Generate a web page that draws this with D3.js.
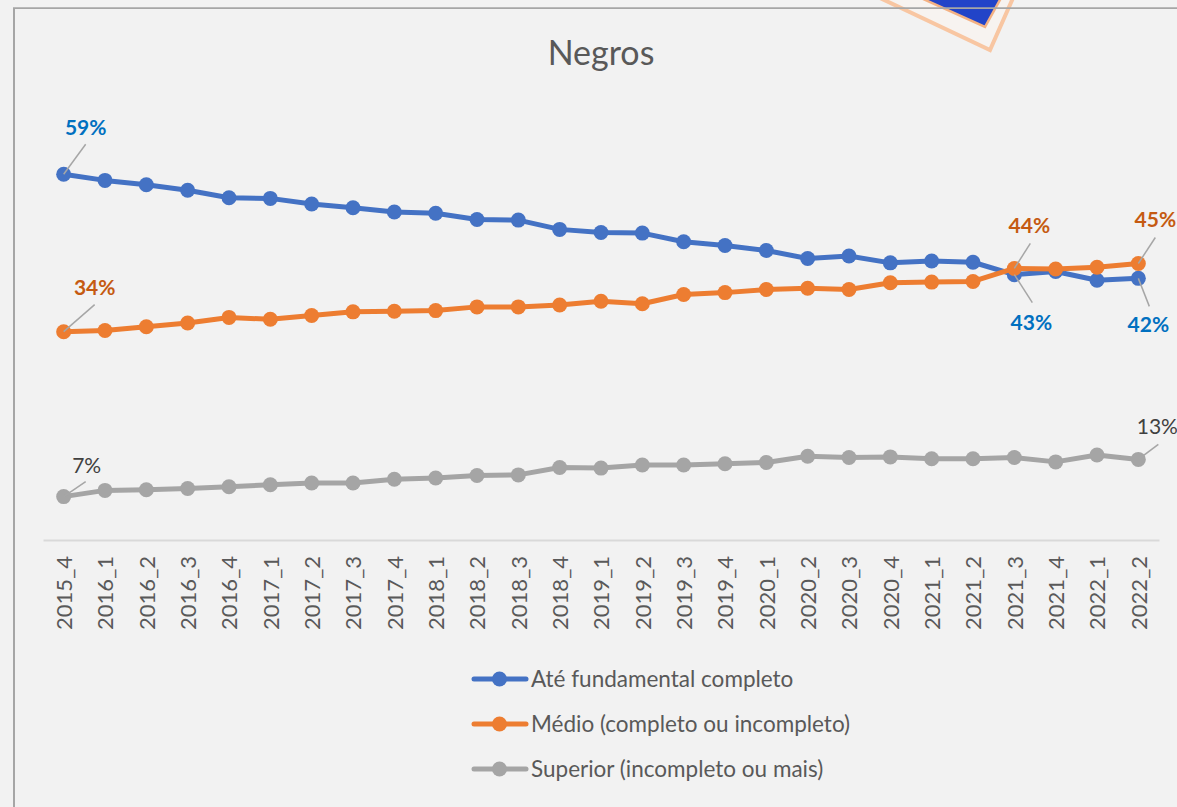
<!DOCTYPE html>
<html>
<head>
<meta charset="utf-8">
<script src="https://cdn.jsdelivr.net/npm/d3@7"></script>
<style>
  html, body { margin: 0; padding: 0; background: #f2f2f2; }
  svg { display: block; font-family: Lato, "Open Sans", sans-serif; }
</style>
</head>
<body>
<svg id="chart" width="1177" height="807"></svg>
<script>
// ---- data ----
const categories = ["2015_4","2016_1","2016_2","2016_3","2016_4","2017_1","2017_2","2017_3","2017_4",
  "2018_1","2018_2","2018_3","2018_4","2019_1","2019_2","2019_3","2019_4","2020_1","2020_2","2020_3",
  "2020_4","2021_1","2021_2","2021_3","2021_4","2022_1","2022_2"];

const fundamental = [0.590,0.580,0.573,0.564,0.552,0.551,0.542,0.536,0.529,0.527,0.517,0.516,0.501,
  0.496,0.495,0.481,0.475,0.467,0.454,0.458,0.447,0.450,0.448,0.428,0.433,0.419,0.422];
const medio = [0.336,0.338,0.344,0.350,0.359,0.356,0.362,0.368,0.369,0.370,0.376,0.376,0.379,
  0.385,0.381,0.396,0.399,0.404,0.406,0.404,0.415,0.416,0.417,0.438,0.437,0.440,0.446];
const superior = [0.070,0.080,0.081,0.083,0.086,0.089,0.092,0.092,0.098,0.100,0.104,0.105,0.117,
  0.116,0.121,0.121,0.123,0.125,0.135,0.133,0.134,0.131,0.131,0.133,0.126,0.137,0.130];

const seriesNames = ["Até fundamental completo", "Médio (completo ou incompleto)", "Superior (incompleto ou mais)"];
const title = "Negros";

// ---- styles ----
const seriesColors = ["#4472c4", "#ed7d31", "#a5a5a5"];
const labelColors = ["#0070c0", "#c55a11", "#404040"];
const labelWeights = ["bold", "bold", "normal"];
const textColor = "#595959";

const series = [fundamental, medio, superior].map((values, i) => ({
  name: seriesNames[i], values, color: seriesColors[i],
  labelColor: labelColors[i], labelWeight: labelWeights[i]
}));

// data labels: which series/point, and offset of label and leader line end from the point
const dataLabels = [
  {s: 0, i: 0,  dx: 22, dy: -39, lx: 22, ly: -30},
  {s: 1, i: 0,  dx: 31, dy: -37, lx: 31, ly: -27},
  {s: 2, i: 0,  dx: 23, dy: -24, lx: 22, ly: -15},
  {s: 1, i: 23, dx: 15, dy: -35, lx: 16, ly: -25},
  {s: 1, i: 26, dx: 17, dy: -36, lx: 17, ly: -26},
  {s: 0, i: 23, dx: 17, dy: 55,  lx: 18, ly: 28},
  {s: 0, i: 26, dx: 10, dy: 54,  lx: 11, ly: 28},
  {s: 2, i: 26, dx: 19, dy: -25, lx: 20, ly: -15}
];

const svg = d3.select("#chart");

// ---- decoration (top) ----
const deco = svg.append("g");
deco.append("path")
  .attr("d", "M880,-2 L990,50 L1013,-2 Z")
  .attr("fill", "#f7f3f0").attr("stroke", "#f8c6a2").attr("stroke-width", 4).attr("stroke-linejoin", "miter");
deco.append("path")
  .attr("d", "M921,-2 L985,27 L1001,-2 Z")
  .attr("fill", "#2244c8").attr("stroke", "#f4b183").attr("stroke-width", 2.5);

// ---- frame ----
svg.append("line").attr("x1", 13).attr("x2", 1177).attr("y1", 8).attr("y2", 8)
  .attr("stroke", "#a6a6a6").attr("stroke-width", 1.75);
svg.append("line").attr("x1", 14).attr("x2", 14).attr("y1", 8).attr("y2", 807)
  .attr("stroke", "#a6a6a6").attr("stroke-width", 2);

// ---- title ----
svg.append("text").attr("x", 601).attr("y", 65).attr("text-anchor", "middle")
  .attr("font-size", 34).attr("fill", textColor).text(title);

// ---- scales ----
const x = d3.scalePoint().domain(categories).range([43, 1159]).padding(0.5);
const y = d3.scaleLinear().domain([0, 0.7]).range([540, 106]);

// ---- x axis ----
const xAxis = svg.append("g").attr("transform", "translate(0,540)")
  .call(d3.axisBottom(x).tickSize(0).tickPadding(0));
xAxis.select(".domain").attr("stroke", "#d9d9d9").attr("stroke-width", 2);
xAxis.selectAll(".tick text")
  .attr("font-size", 22).attr("fill", textColor).attr("font-family", "Lato, sans-serif")
  .attr("text-anchor", "end")
  .attr("transform", "translate(0,16) rotate(-90)")
  .attr("x", 0).attr("y", 0).attr("dy", "0.36em");

// ---- lines and markers ----
const line = d3.line().x((d, i) => x(categories[i])).y(d => y(d));
const g = svg.append("g");
series.forEach(s => {
  g.append("path").datum(s.values).attr("d", line)
    .attr("fill", "none").attr("stroke", s.color).attr("stroke-width", 5)
    .attr("stroke-linejoin", "round");
  g.selectAll(null).data(s.values).enter().append("circle")
    .attr("cx", (d, i) => x(categories[i])).attr("cy", d => y(d)).attr("r", 7.5)
    .attr("fill", s.color);
});

// ---- data labels ----
const fmt = d3.format(".0%");
const lg = svg.append("g");
dataLabels.forEach(l => {
  const s = series[l.s];
  const px = x(categories[l.i]), py = y(s.values[l.i]);
  lg.append("line").attr("x1", px).attr("y1", py).attr("x2", px + l.lx).attr("y2", py + l.ly)
    .attr("stroke", "#a6a6a6").attr("stroke-width", 1.5);
  lg.append("text").attr("x", px + l.dx).attr("y", py + l.dy).attr("text-anchor", "middle")
    .attr("font-size", 21).attr("font-weight", s.labelWeight).attr("fill", s.labelColor)
    .text(fmt(s.values[l.i]));
});

// ---- legend ----
const legend = svg.append("g");
const legendY = [679, 724, 769];
series.forEach((s, i) => {
  const row = legend.append("g").attr("transform", `translate(0,${legendY[i]})`);
  row.append("line").attr("x1", 474).attr("x2", 526).attr("y1", 0).attr("y2", 0)
    .attr("stroke", s.color).attr("stroke-width", 5).attr("stroke-linecap", "round");
  row.append("circle").attr("cx", 499.5).attr("cy", 0).attr("r", 7.5).attr("fill", s.color);
  row.append("text").attr("x", 531).attr("y", 8).attr("font-size", 22.5).attr("fill", textColor)
    .text(s.name);
});
</script>
</body>
</html>
